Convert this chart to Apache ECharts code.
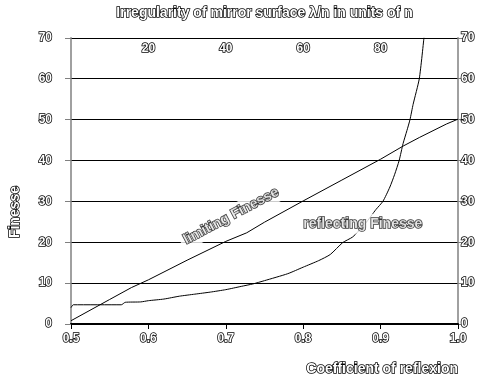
<!DOCTYPE html>
<html><head><meta charset="utf-8">
<script src="https://cdn.jsdelivr.net/npm/echarts@6/dist/echarts.min.js"></script>
<style>html,body{margin:0;padding:0;background:#fff}#c{width:481px;height:383px}</style>
</head><body><div id="c"></div>
<script>
// Coefficient of reflexion vs Finesse
const limitingR = [0.5, 0.55, 0.578, 0.6, 0.624, 0.65, 0.7, 0.727, 0.75, 0.8, 0.85, 0.9, 0.929, 0.95, 0.985, 1.0];
const limitingF = [0.8, 6.0, 8.9, 10.8, 13.1, 15.6, 20.2, 22.3, 24.9, 30.1, 35.2, 40.3, 43.5, 45.6, 48.9, 50.1];
const reflectR = [0.5, 0.503, 0.565, 0.57, 0.59, 0.6, 0.62, 0.64, 0.66, 0.68, 0.7, 0.72, 0.735, 0.75, 0.78, 0.8, 0.82, 0.835, 0.851, 0.864, 0.88, 0.894, 0.903, 0.912, 0.918, 0.924, 0.929, 0.934, 0.938, 0.942, 0.95, 0.956];
const reflectF = [4.0, 4.7, 4.7, 5.3, 5.4, 5.7, 6.1, 6.8, 7.3, 7.8, 8.4, 9.2, 9.8, 10.6, 12.3, 13.9, 15.5, 17.0, 19.9, 21.3, 24.5, 28.0, 30.0, 33.5, 36.5, 40.0, 44.1, 47.3, 50.0, 53.7, 60.0, 70.0];
const topTicks = [20, 40, 60, 80];
const labelTexts = ['limiting Finesse', 'reflecting Finesse'];
const labelPos = [[0.707, 26.4], [0.877, 24.5]];

const txt = {fontFamily: 'Liberation Sans, Arial', fontWeight: 'bold', color: '#fff', textBorderColor: '#000', textBorderWidth: 1.5};
const chart = echarts.init(document.getElementById('c'));
const zip = (a, b) => a.map((v, i) => [v, b[i]]);
chart.setOption({
  animation: false,
  grid: {left: 71, right: 23, top: 32, bottom: 59},
  xAxis: [{
    type: 'value', min: 0.5, max: 1.0, interval: 0.1, position: 'bottom',
    axisLine: {lineStyle: {color: '#000', width: 1}},
    axisTick: {show: true, length: 5, lineStyle: {color: '#000'}},
    axisLabel: Object.assign({fontSize: 12, margin: 9, formatter: v => v.toFixed(1)}, txt),
    splitLine: {show: false},
    name: 'Coefficient of reflexion', nameLocation: 'end', nameGap: 0,
    nameTextStyle: Object.assign({fontSize: 14, align: 'right', verticalAlign: 'top', padding: [38, 0, 0, 0]}, txt)
  }, {
    type: 'value', min: 0, max: 100, interval: 20, position: 'top',
    axisLine: {lineStyle: {color: '#000', width: 2}},
    axisTick: {show: true, inside: true, length: 5, lineStyle: {color: '#000'}},
    axisLabel: Object.assign({inside: true, fontSize: 12, margin: 5,
      formatter: v => topTicks.indexOf(v) >= 0 ? String(v) : ''}, txt),
    splitLine: {show: false},
    name: 'Irregularity of mirror surface λ/n in units of n', nameLocation: 'middle', nameGap: 18,
    nameTextStyle: Object.assign({fontSize: 14}, txt)
  }],
  yAxis: [{
    type: 'value', min: 0, max: 70, interval: 10, position: 'left',
    axisLine: {show: true, lineStyle: {color: '#808080', width: 1.5}},
    axisTick: {show: true, length: 6, lineStyle: {color: '#808080'}},
    axisLabel: Object.assign({fontSize: 12, margin: 19}, txt),
    splitLine: {show: true, lineStyle: {color: '#000', width: 1}}
  }, {
    type: 'value', min: 0, max: 70, interval: 10, position: 'right',
    axisLine: {show: true, lineStyle: {color: '#808080', width: 1.5}},
    axisTick: {show: true, length: 5, lineStyle: {color: '#808080'}},
    axisLabel: Object.assign({fontSize: 12, margin: 3}, txt),
    splitLine: {show: false}
  }],
  graphic: [{
    type: 'text', x: 15, y: 212, rotation: Math.PI / 2,
    style: {text: 'Finesse', fontSize: 14, textAlign: 'center', textVerticalAlign: 'middle',
      fill: '#fff', stroke: '#000', lineWidth: 1.5, fontFamily: 'Liberation Sans, Arial', fontWeight: 'bold'}
  }],
  series: [{
    type: 'line', data: zip(limitingR, limitingF), symbol: 'none', z: 3,
    lineStyle: {color: '#000', width: 1}
  }, {
    type: 'line', data: zip(reflectR, reflectF), symbol: 'none', z: 3, smooth: 0.2,
    lineStyle: {color: '#000', width: 1}
  }, {
    type: 'scatter', symbolSize: 0, z: 10, silent: true,
    data: [{value: labelPos[0], label: {formatter: labelTexts[0], rotate: 28}},
           {value: labelPos[1], label: {formatter: labelTexts[1], rotate: 0}}],
    label: Object.assign({show: true, position: 'inside', fontSize: 14, backgroundColor: '#fff', padding: [3, 4]}, txt)
  }]
});
</script></body></html>
